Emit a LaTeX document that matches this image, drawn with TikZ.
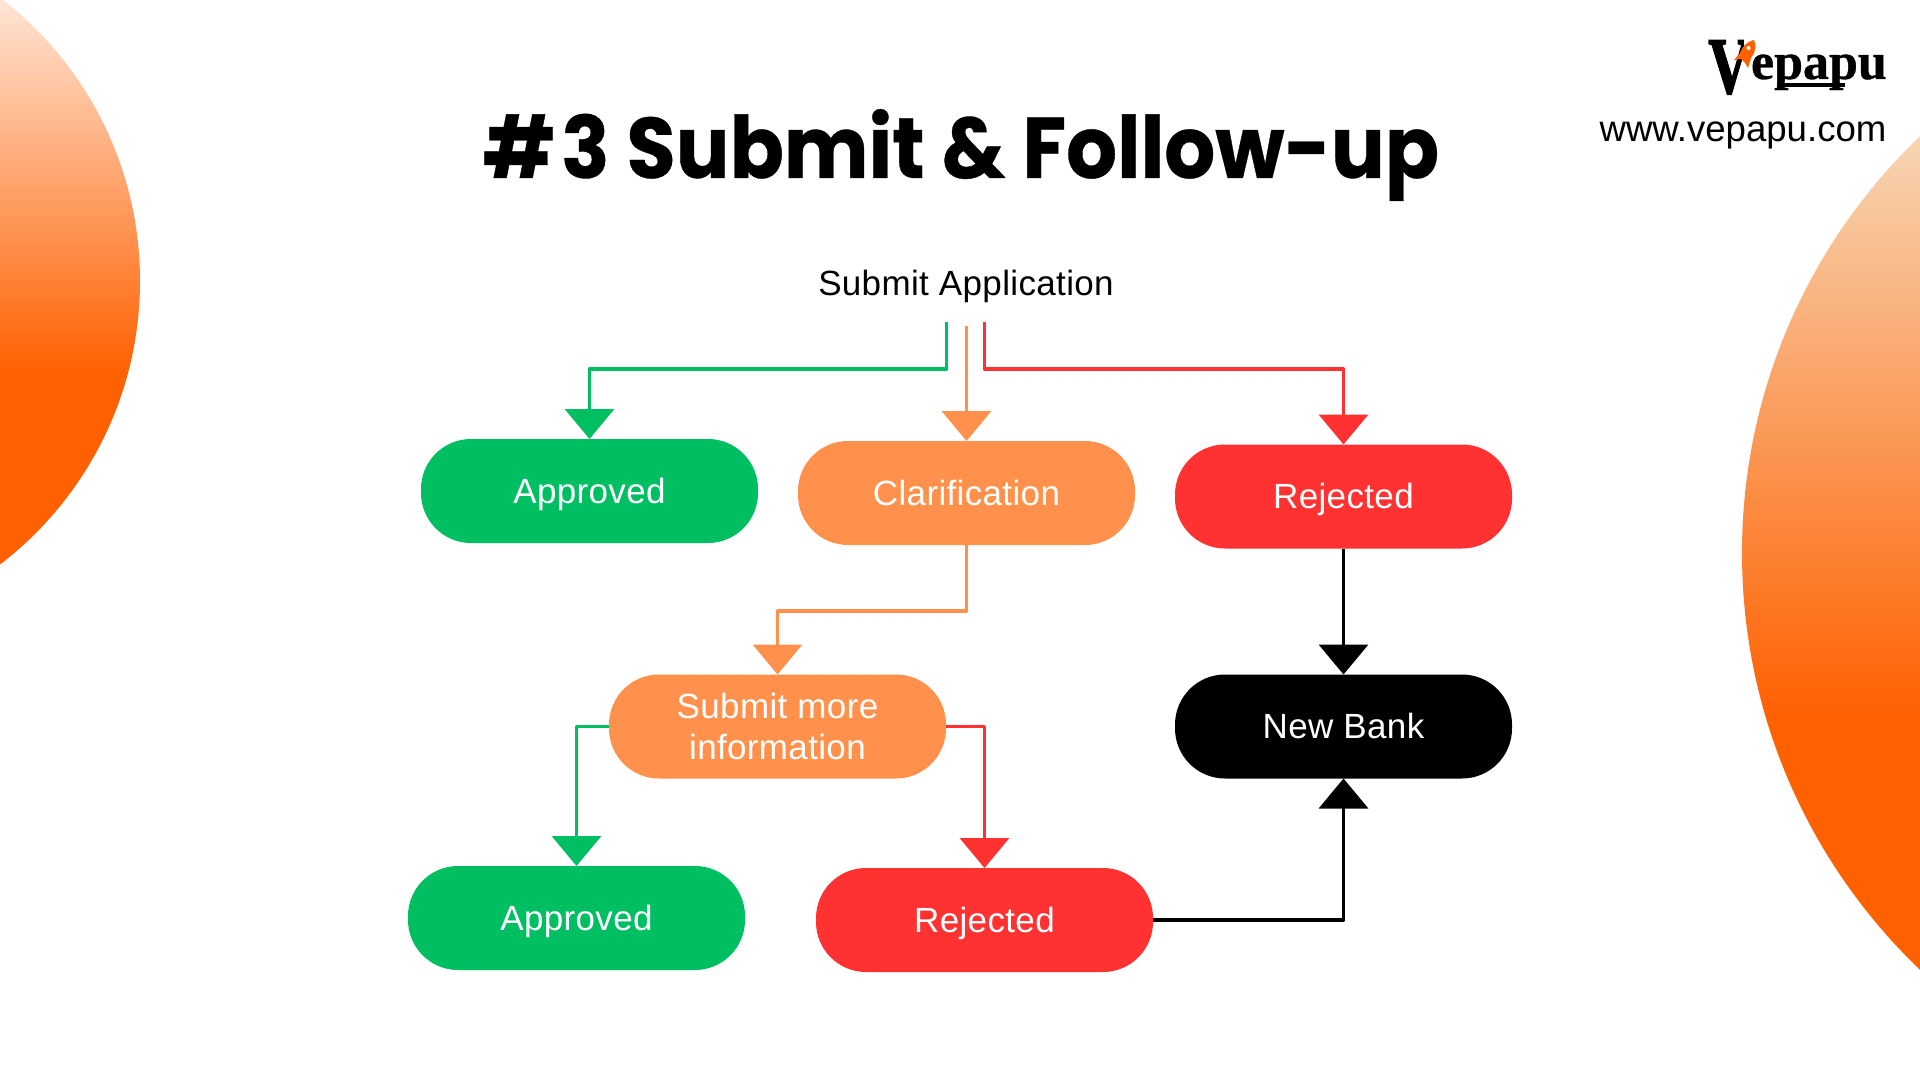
\documentclass[tikz,border=0pt]{standalone}
\usepackage{fontspec}
\usetikzlibrary{arrows.meta}
\setmainfont{Liberation Sans}
\newfontfamily\bodyfont[LetterSpace=1]{Liberation Sans}
\newfontfamily\titlefont[BoldFeatures={FakeStretch=0.93,FakeBold=0.4}]{Poppins}
\newfontfamily\logofont[BoldFeatures={FakeBold=0.6}]{Liberation Serif}
\newfontfamily\logovfont[BoldFeatures={FakeBold=2.5}]{Liberation Serif}
\definecolor{cgreen}{HTML}{00BF63}
\definecolor{corange}{HTML}{FF914D}
\definecolor{cred}{HTML}{FF3131}
\definecolor{cdeep}{HTML}{FF6000}
\definecolor{cpale}{HTML}{F5F5E4}
\pgfdeclareverticalshading{leftgrad}{100bp}{color(0bp)=(cdeep); color(43.5bp)=(cdeep); color(75bp)=(white); color(100bp)=(white)}
\pgfdeclareverticalshading{rightgrad}{100bp}{color(0bp)=(cdeep); color(42.8bp)=(cdeep); color(75bp)=(cpale); color(100bp)=(cpale)}
\tikzset{
  pill/.style={draw=none, fill=#1, rectangle, rounded corners=25pt, minimum width=168.5pt, minimum height=52pt,
    inner sep=0pt, outer sep=0pt, text=white, font=\bodyfont\fontsize{17.5}{20.5}\selectfont},
  oneline/.style={text height=12pt, text depth=0pt},
  link/.style={draw=#1, line width=1.85pt, line join=round, -{Triangle[width=24.5pt,length=15pt,fill=#1]}},
  plain/.style={inner sep=0pt, outer sep=0pt, anchor=base},
}
\begin{document}
\begin{tikzpicture}[x=.5pt,y=-.5pt]
\path[use as bounding box] (0,0) rectangle (1920,1080);
\fill[white] (0,0) rectangle (1920,1080);
\begin{scope}
\clip (0,0) rectangle (1920,1080);
\shade[shading=leftgrad] (-217,281) circle[radius=357];
\shade[shading=rightgrad] (2319,553) circle[radius=577];
\end{scope}

% title and header
\node[plain] (title) at (961,178) {\titlefont\bfseries\fontsize{43}{45}\selectfont \#\kern3pt3 Submit \& Follow-up};
\node[plain] (url) at (1743,142) {\fontsize{18.3}{20}\selectfont www.vepapu.com};
\node[plain] (sub) at (966,296) {\bodyfont\fontsize{17.5}{20}\selectfont Submit Application};

% logo
\node[plain, anchor=base east] (logoV) at (1750,93) {\logovfont\bfseries\fontsize{40}{40}\selectfont\scalebox{.72}[1]{V}};
\fill[white] (1744,38) rectangle (1752,48);
\node[plain, anchor=base west] (logoT) at (1751,79) {\logofont\bfseries\fontsize{26}{26}\selectfont epapu};
\fill[black] (1777,83.5) rectangle (1845,87.5);
\fill[cdeep] (1754,40) .. controls (1746,42) and (1742,47) .. (1740,53)
  -- (1734,60) -- (1741,59) -- (1745,63) -- (1748,68) -- (1751,58)
  .. controls (1755,53) and (1757,46) .. (1754,40) -- cycle;
\fill[white] (1748.5,48) circle[radius=2];

% nodes
\node[pill=cgreen, oneline] (a1) at (589.5,491) {Approved};
\node[pill=corange, oneline] (cl) at (966.5,493) {Clarification};
\node[pill=cred, oneline] (r1) at (1343.5,496.5) {Rejected};
\node[pill=corange, align=center] (sm) at (777.5,726.5) {Submit more\\information};
\node[pill=black, oneline] (nb) at (1343.5,726.5) {New Bank};
\node[pill=cgreen, oneline] (a2) at (576.5,918) {Approved};
\node[pill=cred, oneline] (r2) at (984.5,920) {Rejected};

% free ends below the Submit Application label
\coordinate (gs) at (946.5,322);
\coordinate (os) at (966.5,326);
\coordinate (rs) at (984.5,322);

% connectors
\draw[link=cgreen] (gs) -- ++(0,47) -| (a1.north);
\draw[link=corange] (os) -- (os |- cl.north);
\draw[link=cred] (rs) -- ++(0,47) -| (r1.north);
\draw[link=corange] (cl.south) -- ++(0,66) -| (sm.north);
\draw[link=black] (r1.south) -- (nb.north);
\draw[link=cgreen] (sm.west) -| (a2.north);
\draw[link=cred] (sm.east) -| (r2.north);
\draw[link=black] (r2.east) -| (nb.south);
\end{tikzpicture}
\end{document}
